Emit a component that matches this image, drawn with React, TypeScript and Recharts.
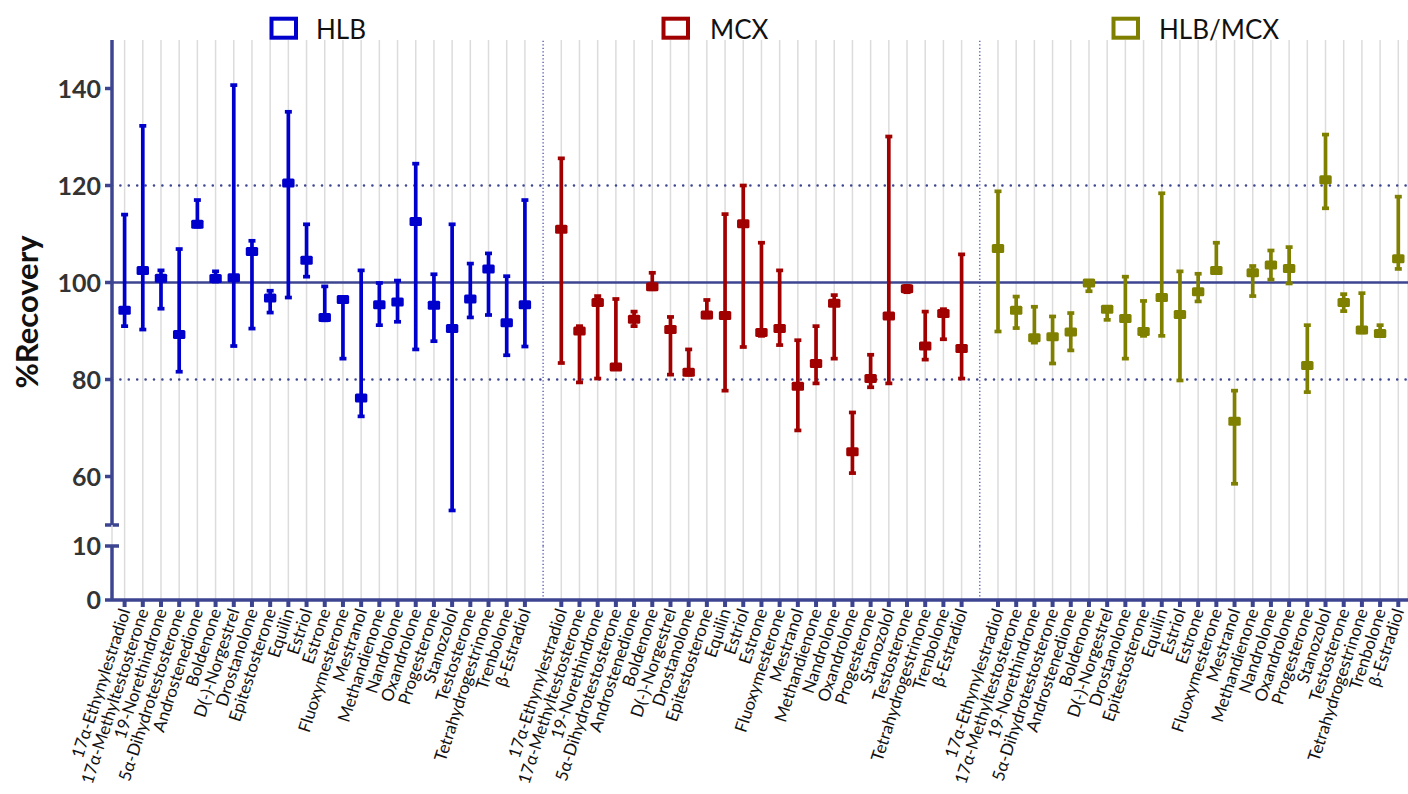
import React from 'react';
import { ComposedChart, Line, XAxis, YAxis, CartesianGrid, ReferenceLine, ErrorBar } from 'recharts';

const compounds = [
  '17α-Ethynylestradiol', '17α-Methyltestosterone', '19-Norethindrone', '5α-Dihydrotestosterone',
  'Androstenedione', 'Boldenone', 'D(-)-Norgestrel', 'Drostanolone', 'Epitestosterone', 'Equilin',
  'Estriol', 'Estrone', 'Fluoxymesterone', 'Mestranol', 'Methandienone', 'Nandrolone', 'Oxandrolone',
  'Progesterone', 'Stanozolol', 'Testosterone', 'Tetrahydrogestrinone', 'Trenbolone', 'β-Estradiol',
];
const groups = ['HLB', 'MCX', 'HLB/MCX'];
const seriesKeys = ['hlb', 'mcx', 'mix'];
const colors = ['#0000cc', '#a00000', '#808000'];

const hlbMean = [94.3, 102.5, 100.9, 89.3, 112.0, 100.8, 101.0, 106.4, 96.8, 120.5, 104.6, 92.8, 96.5, 76.2, 95.4, 96.0, 112.6, 95.3, 90.5, 96.6, 102.8, 91.7, 95.4];
const hlbLow = [91.0, 90.3, 94.6, 81.6, 111.5, 100.2, 86.9, 90.5, 93.8, 96.9, 101.2, 92.2, 84.3, 72.4, 91.2, 91.9, 86.2, 87.9, 53.0, 92.8, 93.3, 85.0, 86.8];
const hlbHigh = [114.0, 132.3, 102.5, 106.9, 117.0, 102.3, 140.7, 108.6, 98.3, 135.2, 112.0, 99.2, 96.8, 102.5, 99.9, 100.4, 124.5, 101.7, 112.0, 103.9, 106.0, 101.3, 117.0];

const mcxMean = [111.0, 90.0, 95.9, 82.6, 92.4, 99.1, 90.3, 81.5, 93.3, 93.2, 112.1, 89.7, 90.5, 78.6, 83.3, 95.7, 65.1, 80.2, 93.1, 98.7, 86.9, 93.6, 86.4];
const mcxLow = [83.4, 79.4, 80.2, 82.4, 91.0, 98.6, 81.0, 81.0, 92.8, 77.7, 86.7, 89.0, 87.1, 69.5, 79.2, 84.3, 60.7, 78.4, 79.2, 98.0, 84.1, 88.3, 80.2];
const mcxHigh = [125.6, 91.0, 97.2, 96.6, 94.0, 102.0, 92.9, 86.2, 96.4, 114.1, 120.0, 108.2, 102.5, 88.1, 91.0, 97.4, 73.2, 85.1, 130.1, 99.3, 94.0, 94.5, 105.8];

const mixMean = [107.0, 94.3, 88.6, 88.8, 89.8, 99.9, 94.5, 92.6, 89.9, 96.9, 93.4, 98.1, 102.5, 71.4, 102.0, 103.6, 102.9, 82.9, 121.2, 95.9, 90.2, 89.5, 104.9];
const mixLow = [89.9, 90.6, 87.6, 83.3, 86.0, 98.2, 92.3, 84.3, 89.0, 89.0, 79.8, 96.1, 102.0, 58.5, 97.2, 100.6, 99.8, 77.4, 115.3, 94.1, 89.7, 89.0, 102.8];
const mixHigh = [118.8, 97.1, 95.0, 93.0, 93.7, 100.3, 94.8, 101.2, 96.2, 118.4, 102.3, 101.8, 108.2, 77.7, 103.4, 106.6, 107.3, 91.2, 130.5, 97.6, 97.8, 91.2, 117.7];

const upperTicks = [50, 60, 80, 100, 120, 140];
const lowerTicks = [0, 10];

const values = [
  [hlbMean, hlbLow, hlbHigh],
  [mcxMean, mcxLow, mcxHigh],
  [mixMean, mixLow, mixHigh],
];

type Row = { key: string; label: string; [k: string]: any };
const rows: Row[] = [];
groups.forEach((g, gi) => {
  compounds.forEach((c, ci) => {
    const sk = seriesKeys[gi];
    const [m, lo, hi] = values[gi];
    rows.push({ key: `${g}|${c}`, label: c, [sk]: m[ci], [sk + 'Err']: [m[ci] - lo[ci], hi[ci] - m[ci]] });
  });
  if (gi < groups.length - 1) rows.push({ key: `gap${gi}`, label: '' });
});
const labelOf: Record<string, string> = {};
rows.forEach((r) => (labelOf[r.key] = r.label));

const NAVY = '#3d4590';
const FONT = 'Lato, "Open Sans", sans-serif';
const W = 1408;
const Y_W = 112;
const XPAD = { left: 12.6, right: 9.7 };

const makeDot = (color: string) => (props: any) => {
  const { cx, cy, value, index } = props;
  if (cx == null || cy == null || value == null || Number.isNaN(cy)) return <g key={`d${index}`} />;
  return <rect key={`d${index}`} x={cx - 6.2} y={cy - 4.5} width={12.4} height={9} rx={1.5} fill={color} />;
};

const YTick = (props: any) => {
  const { x, y, payload } = props;
  const v = payload.value;
  const cap = v === 50 || v === 10;
  return (
    <g>
      <line x1={x - 7} x2={cap ? x + 7 : x} y1={y} y2={y} stroke={NAVY} strokeWidth={3.5} />
      {v !== 50 && (
        <text x={x - 11} y={y} dy="0.36em" textAnchor="end" fontFamily={FONT} fontWeight={700} fontSize={25} fill="#333">
          {v}
        </text>
      )}
    </g>
  );
};

const XTick = (props: any) => {
  const { x, y, payload } = props;
  const label = labelOf[payload.value];
  if (!label) return <g />;
  return (
    <g>
      <rect x={x - 2} y={y} width={4} height={7} fill={NAVY} />
      <text
        transform={`translate(${x + 6},${y + 11}) rotate(-72)`}
        textAnchor="end"
        fontFamily={FONT}
        fontSize={17}
        fill="#111"
      >
        {label}
      </text>
    </g>
  );
};

const separators = (
  <>
    <ReferenceLine x="gap0" stroke="#ffffff" strokeWidth={3} />
    <ReferenceLine x="gap1" stroke="#ffffff" strokeWidth={3} />
    <ReferenceLine x="gap0" stroke="#4a50a8" strokeWidth={1.3} strokeDasharray="1.3 2.2" />
    <ReferenceLine x="gap1" stroke="#4a50a8" strokeWidth={1.3} strokeDasharray="1.3 2.2" />
  </>
);

const hiddenLines = seriesKeys.map((sk) => (
  <Line key={sk} dataKey={sk} stroke="none" dot={false} activeDot={false} isAnimationActive={false} legendType="none" />
));

const Legend = () => (
  <svg width={W} height={50} style={{ position: 'absolute', left: 0, top: 0 }}>
    {[
      { sq: 271.5, tx: 316 },
      { sq: 663.5, tx: 710 },
      { sq: 1113.5, tx: 1159 },
    ].map((p, i) => (
      <g key={groups[i]}>
        <rect x={p.sq} y={18.7} width={24.5} height={19} fill="none" stroke={colors[i]} strokeWidth={4} />
        <text x={p.tx} y={38.5} fontFamily={FONT} fontSize={26} fill="#111">
          {groups[i]}
        </text>
      </g>
    ))}
  </svg>
);

export default function App() {
  return (
    <div style={{ position: 'absolute', left: 0, top: 0, width: W, height: 794, background: '#fff' }}>
      <div style={{ position: 'absolute', left: 0, top: 0 }}>
        <ComposedChart width={W} height={535} data={rows} margin={{ top: 40, right: 0, bottom: 10, left: 0 }}>
          <CartesianGrid horizontal={false} vertical stroke="#dcdcdc" strokeWidth={1.5} />
          <XAxis dataKey="key" hide interval={0} padding={XPAD} />
          <YAxis
            width={Y_W}
            domain={[50, 150]}
            ticks={upperTicks}
            allowDataOverflow
            interval={0}
            tickSize={0}
            tickMargin={0}
            tickLine={false}
            tick={<YTick />}
            axisLine={{ stroke: NAVY, strokeWidth: 3.5 }}
            label={{
              content: () => (
                <text
                  transform="translate(38,312) rotate(-90)"
                  textAnchor="middle"
                  fontFamily={FONT}
                  fontWeight={700}
                  fontSize={31}
                  fill="#111"
                >
                  %Recovery
                </text>
              ),
            }}
          />
          {separators}
          <ReferenceLine y={120} stroke={NAVY} strokeWidth={2.6} strokeDasharray="0 8.4" strokeLinecap="round" />
          <ReferenceLine y={80} stroke={NAVY} strokeWidth={2.6} strokeDasharray="0 8.4" strokeLinecap="round" />
          <ReferenceLine y={100} stroke={NAVY} strokeWidth={2.5} />
          {seriesKeys.map((sk, i) => (
            <Line
              key={sk}
              dataKey={sk}
              stroke="none"
              isAnimationActive={false}
              dot={makeDot(colors[i])}
              activeDot={false}
              legendType="none"
            >
              <ErrorBar dataKey={sk + 'Err'} direction="y" width={3.5} stroke={colors[i]} strokeWidth={3.7} />
            </Line>
          ))}
        </ComposedChart>
      </div>
      <div style={{ position: 'absolute', left: 0, top: 525 }}>
        <ComposedChart width={W} height={21} data={rows} margin={{ top: 0, right: 0, bottom: 0, left: Y_W }}>
          <CartesianGrid horizontal={false} vertical stroke="#dcdcdc" strokeWidth={1.5} />
          <XAxis dataKey="key" hide interval={0} padding={XPAD} />
          <YAxis hide domain={[0, 10]} allowDataOverflow />
          {separators}
          {hiddenLines}
        </ComposedChart>
      </div>
      <div style={{ position: 'absolute', left: 0, top: 531 }}>
        <ComposedChart width={W} height={263} data={rows} margin={{ top: 15, right: 0, bottom: 0, left: 0 }}>
          <CartesianGrid horizontal={false} vertical stroke="#dcdcdc" strokeWidth={1.5} />
          <XAxis
            dataKey="key"
            interval={0}
            padding={XPAD}
            height={194}
            tickSize={0}
            tickMargin={0}
            tickLine={false}
            tick={<XTick />}
            axisLine={{ stroke: NAVY, strokeWidth: 3.5 }}
          />
          <YAxis
            width={Y_W}
            domain={[0, 10]}
            ticks={lowerTicks}
            allowDataOverflow
            interval={0}
            tickSize={0}
            tickMargin={0}
            tickLine={false}
            tick={<YTick />}
            axisLine={{ stroke: NAVY, strokeWidth: 3.5 }}
          />
          {separators}
          {hiddenLines}
        </ComposedChart>
      </div>
      <Legend />
    </div>
  );
}
